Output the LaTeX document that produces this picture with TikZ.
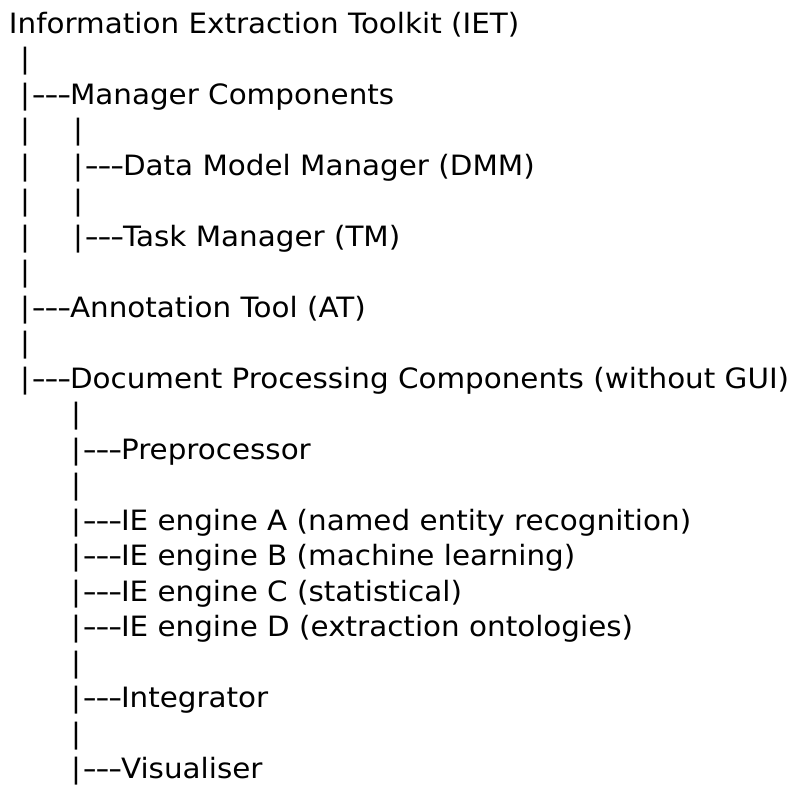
\documentclass[tikz,border=0pt]{standalone}
\usepackage{fontspec}
\setmainfont{DejaVu Sans}[FakeStretch=1.05]
% a branch prefix "|---": the bar followed by three widened hyphens
\newcommand\dsh{\scalebox{1.35}[1]{-}}
\newcommand\twig{|\kern1.4pt\dsh\kern-1.5pt\dsh\kern-1.5pt\dsh\kern-1.45pt}
\begin{document}
\begin{tikzpicture}[x=1pt,y=-1pt,
  txt/.style={inner sep=0pt, anchor=base west, text=black,
              font=\fontsize{28}{34}\selectfont}]
\useasboundingbox (0,0) rectangle (795,785);
% column positions (left edge of each bar glyph)
\def\ca{20}
\def\cb{73}
\def\cc{71}
% root
\node[txt] (root) at (8.8,33.3) {Information Extraction Toolkit (IET)};
% first level
\node[txt] (b2)  at (\ca,68.8)  {|};
\node[txt] (mgr) at (\ca,104.3) {\twig Manager Components};
\node[txt] (b4a) at (\ca,139.8) {|};
\node[txt] (b4b) at (\cb,139.8) {|};
\node[txt] (b5a) at (\ca,175.3) {|};
\node[txt] (dmm) at (\cb,175.3) {\twig Data Model Manager (DMM)};
\node[txt] (b6a) at (\ca,210.8) {|};
\node[txt] (b6b) at (\cb,210.8) {|};
\node[txt] (b7a) at (\ca,246.3) {|};
\node[txt] (tm)  at (\cb,246.3) {\twig Task Manager (TM)};
\node[txt] (b8)  at (\ca,281.8) {|};
\node[txt] (at)  at (\ca,317.3) {\twig Annotation Tool (AT)};
\node[txt] (b10) at (\ca,352.8) {|};
\node[txt] (dpc) at (\ca,388.3) {\twig Document Processing Components (without GUI)};
% document processing subtree
\node[txt] (b12) at (\cc,423.8) {|};
\node[txt] (pre) at (\cc,459.3) {\twig Preprocessor};
\node[txt] (b14) at (\cc,494.8) {|};
\node[txt] (iea) at (\cc,530.3) {\twig IE engine A (named entity recognition)};
\node[txt] (ieb) at (\cc,565.8) {\twig IE engine B (machine learning)};
\node[txt] (iec) at (\cc,601.3) {\twig IE engine C (statistical)};
\node[txt] (ied) at (\cc,636.8) {\twig IE engine D (extraction ontologies)};
\node[txt] (b19) at (\cc,672.3) {|};
\node[txt] (int) at (\cc,707.8) {\twig Integrator};
\node[txt] (b21) at (\cc,743.3) {|};
\node[txt] (vis) at (\cc,778.8) {\twig Visualiser};
\end{tikzpicture}
\end{document}
